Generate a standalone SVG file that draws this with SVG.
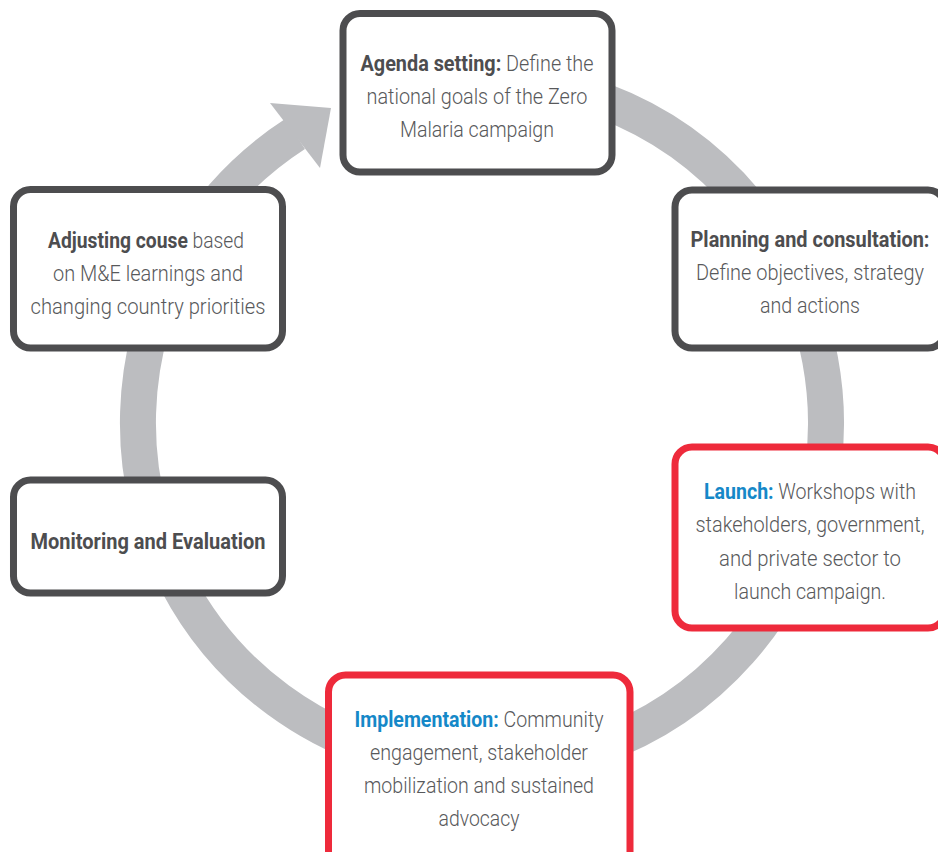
<svg xmlns="http://www.w3.org/2000/svg" width="938" height="852" viewBox="0 0 938 852">
<style>
.box{fill:#ffffff;stroke:#4d4d4f;stroke-width:7}
.red{fill:#ffffff;stroke:#ee2a3b;stroke-width:7}
.t{font-family:Roboto,"Liberation Sans",sans-serif;font-size:22px;font-weight:300;fill:#58595b;text-anchor:middle}
.b{font-weight:700;fill:#4d4d4f}
.bl{font-weight:700;fill:#1588c8}
.ring{fill:none;stroke:#bcbdc0;stroke-width:36}
</style>
<rect width="938" height="852" fill="#ffffff"/>
<g id="connectors">
<path class="ring" d="M 295.2 133.9 A 344 344 0 1 0 449.9 80.3"/>
<polygon points="270,103 331,108 320,168" fill="#bcbdc0"/>
</g>
<g id="agenda">
<rect class="box" x="343" y="13.5" width="269" height="158.5" rx="17"/>
<text class="t" x="477" y="71" textLength="233" lengthAdjust="spacingAndGlyphs"><tspan class="b">Agenda setting:</tspan> Define the</text>
<text class="t" x="477" y="104" textLength="221" lengthAdjust="spacingAndGlyphs">national goals of the Zero</text>
<text class="t" x="477" y="137" textLength="154" lengthAdjust="spacingAndGlyphs">Malaria campaign</text>
</g>
<g id="planning">
<rect class="box" x="675" y="190" width="270" height="158" rx="17"/>
<text class="t" x="810" y="247" textLength="239" lengthAdjust="spacingAndGlyphs"><tspan class="b">Planning and consultation:</tspan></text>
<text class="t" x="810" y="280" textLength="228" lengthAdjust="spacingAndGlyphs">Define objectives, strategy</text>
<text class="t" x="810" y="313" textLength="100" lengthAdjust="spacingAndGlyphs">and actions</text>
</g>
<g id="launch">
<rect class="red" x="675" y="447" width="270" height="181" rx="17"/>
<text class="t" x="810" y="498.5" textLength="212" lengthAdjust="spacingAndGlyphs"><tspan class="bl">Launch:</tspan> Workshops with</text>
<text class="t" x="810" y="532" textLength="229" lengthAdjust="spacingAndGlyphs">stakeholders, government,</text>
<text class="t" x="810" y="565.5" textLength="182" lengthAdjust="spacingAndGlyphs">and private sector to</text>
<text class="t" x="810" y="599" textLength="152" lengthAdjust="spacingAndGlyphs">launch campaign.</text>
</g>
<g id="implementation">
<rect class="red" x="328.5" y="675" width="301.5" height="200" rx="17"/>
<text class="t" x="479" y="727" textLength="249" lengthAdjust="spacingAndGlyphs"><tspan class="bl">Implementation:</tspan> Community</text>
<text class="t" x="479" y="760" textLength="218" lengthAdjust="spacingAndGlyphs">engagement, stakeholder</text>
<text class="t" x="479" y="793" textLength="230" lengthAdjust="spacingAndGlyphs">mobilization and sustained</text>
<text class="t" x="479" y="826" textLength="81" lengthAdjust="spacingAndGlyphs">advocacy</text>
</g>
<g id="monitoring">
<rect class="box" x="13.5" y="480" width="269" height="113" rx="17"/>
<text class="t" x="148" y="548.5" textLength="235" lengthAdjust="spacingAndGlyphs"><tspan class="b">Monitoring and Evaluation</tspan></text>
</g>
<g id="adjusting">
<rect class="box" x="13.5" y="189.5" width="269" height="158.5" rx="17"/>
<text class="t" x="146" y="248" textLength="196" lengthAdjust="spacingAndGlyphs"><tspan class="b">Adjusting couse</tspan> based</text>
<text class="t" x="148" y="281" textLength="190" lengthAdjust="spacingAndGlyphs">on M&amp;E learnings and</text>
<text class="t" x="148" y="314" textLength="235" lengthAdjust="spacingAndGlyphs">changing country priorities</text>
</g>
</svg>
